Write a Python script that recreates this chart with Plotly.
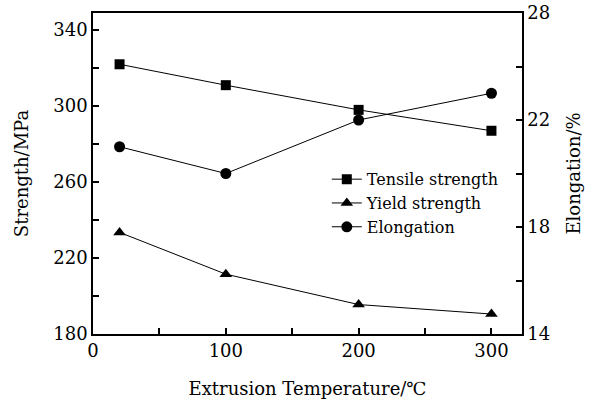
import plotly.graph_objects as go

temperature = [20, 100, 200, 300]
tensile_strength = [322, 311, 298, 287]
yield_strength = [233.5, 211.5, 195.5, 190.5]
elongation = [21.0, 20.0, 22.0, 23.0]

left_tickvals = [180, 200, 220, 240, 260, 280, 300, 320, 340]
left_ticktext = ["180", "", "220", "", "260", "", "300", "", "340"]
right_tickvals = [14, 16, 18, 20, 22, 24, 26]
right_ticktext = ["14", "", "18", "", "22", "", "28"]
x_tickvals = [0, 50, 100, 150, 200, 250, 300]
x_ticktext = ["0", "", "100", "", "200", "", "300"]

FONT = "DejaVu Serif"
fs = 18

fig = go.Figure()
fig.add_trace(go.Scatter(x=temperature, y=tensile_strength, name="Tensile strength",
                         mode="lines+markers", line=dict(color="black", width=1),
                         marker=dict(symbol="square", size=10, color="black")))
fig.add_trace(go.Scatter(x=temperature, y=yield_strength, name="Yield strength",
                         mode="lines+markers", line=dict(color="black", width=1),
                         marker=dict(symbol="triangle-up", size=11, color="black")))
fig.add_trace(go.Scatter(x=temperature, y=elongation, name="Elongation", yaxis="y2",
                         mode="lines+markers", line=dict(color="black", width=1),
                         marker=dict(symbol="circle", size=11, color="black")))

axis_common = dict(showgrid=False, zeroline=False, showline=True, linecolor="black",
                   linewidth=1.5, ticks="inside", ticklen=6, tickwidth=1.5,
                   tickcolor="black", automargin=False,
                   tickfont=dict(family=FONT, size=fs, color="black"))

fig.update_layout(
    width=595, height=399,
    margin=dict(l=93, r=73, t=13, b=65),
    paper_bgcolor="white", plot_bgcolor="white",
    font=dict(family=FONT, size=fs, color="black"),
    showlegend=True,
    legend=dict(x=0.545, y=0.535, xanchor="left", yanchor="top",
                bgcolor="rgba(0,0,0,0)", font=dict(family=FONT, size=16),
                tracegroupgap=0, itemwidth=30),
    xaxis=dict(range=[0, 323], tickvals=x_tickvals, ticktext=x_ticktext,
               mirror=True,
               title=dict(text="Extrusion Temperature/℃", standoff=22,
                          font=dict(family=FONT, size=fs)),
               **axis_common),
    yaxis=dict(range=[180, 349], tickvals=left_tickvals, ticktext=left_ticktext,
               title=dict(text="Strength/MPa", standoff=20,
                          font=dict(family=FONT, size=fs)),
               **axis_common),
    yaxis2=dict(range=[14, 26], tickvals=right_tickvals, ticktext=right_ticktext,
                overlaying="y", side="right",
                title=dict(text="Elongation/%", standoff=18,
                           font=dict(family=FONT, size=fs)),
                **axis_common),
)

fig.write_html("out.html")
